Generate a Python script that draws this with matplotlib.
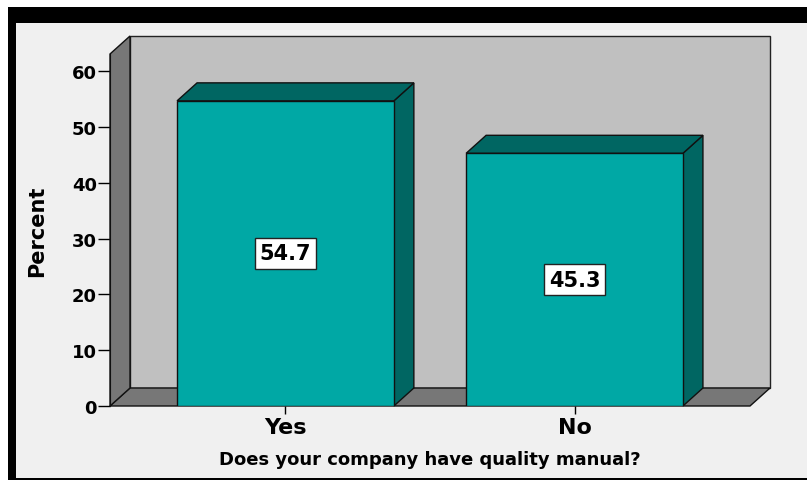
import numpy as np
import matplotlib.pyplot as plt
from matplotlib.patches import Polygon, Rectangle

categories = ["Yes", "No"]
percent = [54.7, 45.3]
yticks = [0, 10, 20, 30, 40, 50, 60]

plt.rcParams['font.family'] = ['DejaVu Sans']

face = "#00a8a5"
shade = "#006662"
wall = "#c0c0c0"
floor = "#777777"
bg = "#f0f0f0"

fig = plt.figure(figsize=(8.07, 4.81), dpi=100)
fig.patch.set_facecolor("white")

# framed panel with a heavy black border on top and left
W, H = 807, 481
fig.patches.append(Rectangle((8 / W, 0), 1 - 8 / W, 1 - 8 / H, transform=fig.transFigure,
                             facecolor="black", edgecolor="none", zorder=-3))
fig.patches.append(Rectangle((16 / W, 2 / H), 1 - 16 / W, 1 - 26 / H, transform=fig.transFigure,
                             facecolor=bg, edgecolor="none", zorder=-2))

ax = fig.add_axes([110 / W, (H - 407) / H, 640 / W, 352 / H])
ax.set_facecolor("none")
ax.set_xlim(-0.607, 1.607)
ax.set_ylim(0, 63.1)

# depth of the 3d look, pixels turned into data units
xmin, xmax = ax.get_xlim()
ymin, ymax = ax.get_ylim()
dx = 20 / 640 * (xmax - xmin)
dy = 18 / 352 * (ymax - ymin)

lw = 1.0
ax.add_patch(Rectangle((xmin + dx, dy), xmax - xmin, ymax - ymin, facecolor=wall,
                       edgecolor="#222222", lw=lw, clip_on=False, zorder=1))
ax.add_patch(Polygon([(xmin, 0), (xmax, 0), (xmax + dx, dy), (xmin + dx, dy)],
                     facecolor=floor, edgecolor="#111111", lw=lw, clip_on=False, zorder=2))
ax.add_patch(Polygon([(xmin, 0), (xmin, ymax), (xmin + dx, ymax + dy), (xmin + dx, dy)],
                     facecolor=floor, edgecolor="#111111", lw=lw, clip_on=False, zorder=2))

x = np.arange(len(categories))
width = 0.75
bars = ax.bar(x, percent, width, color=face, edgecolor="#111111", lw=lw, zorder=4)
for b, v in zip(bars, percent):
    x0 = b.get_x()
    x1 = x0 + b.get_width()
    ax.add_patch(Polygon([(x1, 0), (x1 + dx, dy), (x1 + dx, v + dy), (x1, v)],
                         facecolor=shade, edgecolor="#111111", lw=lw, clip_on=False, zorder=3))
    ax.add_patch(Polygon([(x0, v), (x1, v), (x1 + dx, v + dy), (x0 + dx, v + dy)],
                         facecolor=shade, edgecolor="#111111", lw=lw, clip_on=False, zorder=3))
    ax.text(b.get_x() + b.get_width() / 2, v / 2, f"{v:.1f}", ha="center", va="center",
            fontsize=15, fontweight="bold", zorder=6,
            bbox=dict(boxstyle="square,pad=0.25", facecolor="white", edgecolor="#222222", lw=1))

for s in ["top", "right", "bottom"]:
    ax.spines[s].set_visible(False)
ax.spines["left"].set_color("#111111")
ax.spines["left"].set_zorder(5)

ax.set_yticks(yticks)
ax.set_xticks(x)
ax.set_xticklabels(categories, fontsize=16, fontweight="bold")
ax.tick_params(axis="y", length=9, width=1, labelsize=13, pad=0.5)
ax.tick_params(axis="x", length=6, width=1, pad=2)
for t in ax.get_yticklabels():
    t.set_fontweight("bold")

ax.set_ylabel("Percent", fontsize=15, fontweight="bold", labelpad=18)
ax.set_xlabel("Does your company have quality manual?", fontsize=13, fontweight="bold", labelpad=9)

fig.savefig("out.png", dpi=100, facecolor=fig.get_facecolor())
